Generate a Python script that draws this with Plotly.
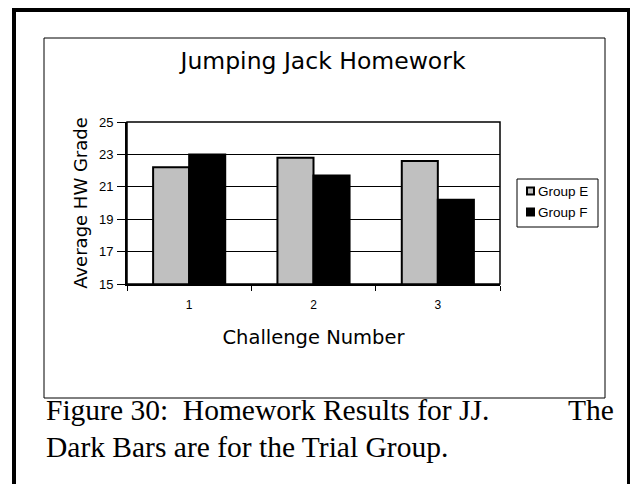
import plotly.graph_objects as go

# Data
challenges = ["1", "2", "3"]
group_names = ["Group E", "Group F"]
group_e = [22.2, 22.8, 22.6]
group_f = [23.0, 21.7, 20.2]
y_ticks = [15, 17, 19, 21, 23, 25]
colors = ["#C0C0C0", "black"]

# the page body has an 8px margin, so window coords are shifted
OFF = 8
W, H = 638, 484
L, T = 127 - OFF, 122 - OFF
pw, ph = 373, 162
R, B = W - L - pw, H - T - ph


def px(x):
    return (x - OFF - L) / pw


def py(y):
    return (H - B - (y - OFF)) / ph


fig = go.Figure()
for name, vals, col in zip(group_names, [group_e, group_f], colors):
    fig.add_trace(go.Bar(
        x=challenges, y=vals, name=name,
        marker=dict(color=col, line=dict(color="black", width=2)),
    ))

sans = "Liberation Sans, Arial, sans-serif"
wide = "DejaVu Sans, sans-serif"

fig.update_layout(
    width=W, height=H,
    margin=dict(l=L, r=R, t=T, b=B),
    paper_bgcolor="white", plot_bgcolor="white",
    barmode="group", bargap=0.42, bargroupgap=0,
    font=dict(family=sans, color="black", size=12),
    showlegend=False,
    xaxis=dict(
        type="category", tickson="boundaries", ticks="outside", ticklen=5,
        tickcolor="black", showline=True, linecolor="black", linewidth=2,
        showgrid=False, tickfont=dict(size=12), ticklabelstandoff=9,
        title=dict(text="Challenge Number", font=dict(family=wide, size=19.5), standoff=19),
    ),
    yaxis=dict(
        range=[15, 25], tickvals=y_ticks, ticks="outside", ticklen=8,
        tickcolor="black", showline=True, linecolor="black", linewidth=2,
        showgrid=True, gridcolor="black", gridwidth=1, zeroline=False,
        tickfont=dict(size=13), ticklabelstandoff=1,
        title=dict(text="Average HW Grade", font=dict(family=wide, size=18), standoff=7),
    ),
    title=dict(text="Jumping Jack Homework", x=(323 - OFF) / W, xanchor="center",
               y=1 - (61 - OFF) / H, yanchor="middle", font=dict(family=wide, size=23.5)),
)

shapes = [
    # plot area frame
    dict(type="rect", xref="paper", yref="paper", x0=0, y0=0, x1=1, y1=1,
         line=dict(color="black", width=1.5)),
    # chart box
    dict(type="rect", xref="paper", yref="paper", x0=px(44), x1=px(605),
         y0=py(398), y1=py(38), line=dict(color="black", width=1)),
    # outer frame
    dict(type="rect", xref="paper", yref="paper", x0=px(14), x1=px(629),
         y0=py(520), y1=py(10), line=dict(color="black", width=4)),
    # legend box
    dict(type="rect", xref="paper", yref="paper", x0=px(517), x1=px(598),
         y0=py(227), y1=py(179), line=dict(color="black", width=1)),
]

# legend entries
for i, (name, col) in enumerate(zip(group_names, colors)):
    yc = 191 + i * 21
    shapes.append(dict(type="rect", xref="paper", yref="paper",
                       x0=px(527), x1=px(534), y0=py(yc + 3.5), y1=py(yc - 3.5),
                       fillcolor=col, line=dict(color="black", width=2)))
    fig.add_annotation(text=name, x=px(536), y=py(yc), xref="paper", yref="paper",
                       xanchor="left", yanchor="middle", showarrow=False,
                       font=dict(family=sans, size=13.5))
fig.update_layout(shapes=shapes)

serif = "Liberation Serif, Times New Roman, serif"
cap_font = dict(family=serif, size=29.5)
fig.add_annotation(text="Figure 30:  Homework Results for JJ.", x=px(44), y=py(410),
                   xref="paper", yref="paper", xanchor="left", yanchor="middle",
                   showarrow=False, font=cap_font)
fig.add_annotation(text="The", x=px(616), y=py(410),
                   xref="paper", yref="paper", xanchor="right", yanchor="middle",
                   showarrow=False, font=cap_font)
fig.add_annotation(text="Dark Bars are for the Trial Group.", x=px(44), y=py(447),
                   xref="paper", yref="paper", xanchor="left", yanchor="middle",
                   showarrow=False, font=cap_font)

fig.write_html("out.html")
